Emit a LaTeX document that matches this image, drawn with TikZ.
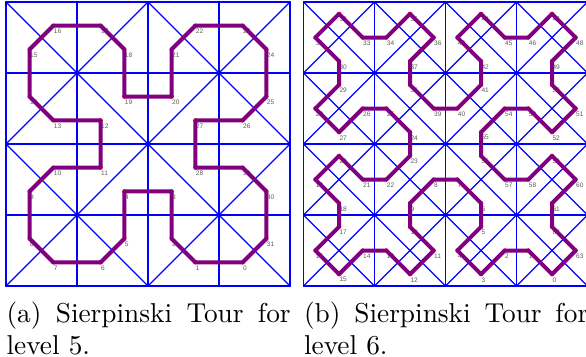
\documentclass[tikz,border=0pt]{standalone}
\usepackage{fontspec}
\newfontfamily\labelfont{Liberation Sans}
\usepackage{xcolor}
\usepackage{tikz}
\usetikzlibrary{positioning}
\definecolor{gridblue}{HTML}{0000FF}
\definecolor{tourpurple}{HTML}{800080}
\definecolor{labelgray}{HTML}{5A5A5A}

\begin{document}
\begin{tikzpicture}[x=0.366pt, y=-0.366pt]
  \tikzstyle{gridline}=[draw=gridblue, line width=0.62pt]
  \tikzstyle{diag}=[draw=gridblue, line width=0.5pt]
  \tikzstyle{frame}=[draw=gridblue, line width=0.62pt]
  \tikzstyle{dot}=[circle, fill=red, inner sep=0pt, minimum size=1.6pt, label distance=0.85pt]
  \tikzstyle{lbl}=[anchor=north west, inner sep=0pt, text=labelgray, font=\labelfont\fontsize{2.4}{2.8}\selectfont]
  \tikzstyle{tour}=[draw=tourpurple, line width=1.46pt, line join=bevel]
  \tikzstyle{caption}=[anchor=north west, inner sep=0pt, text width=104pt, align=justify, font=\sloppy]

  \useasboundingbox (0,0) rectangle (586,356);

  % level 5
  \begin{scope}[shift={(6,2)}, x=8.662pt, y=-8.662pt]
    \draw[frame] (0,0) rectangle (12,12);
    \foreach \k in {3,6,9} {
      \draw[gridline] (\k,0) -- (\k,12);
      \draw[gridline] (0,\k) -- (12,\k);
    }
    \draw[diag] (0,0) -- (12,12) (12,0) -- (0,12);
    \draw[diag] (6,0) -- (12,6) -- (6,12) -- (0,6) -- cycle;
    \foreach \x/\y [count=\n from 0] in {10/11, 8/11, 7/10, 7/8, 5/8, 5/10, 4/11, 2/11,
        1/10, 1/8, 2/7, 4/7, 4/5, 2/5, 1/4, 1/2, 2/1, 4/1, 5/2, 5/4, 7/4, 7/2, 8/1, 10/1,
        11/2, 11/4, 10/5, 8/5, 8/7, 10/7, 11/8, 11/10}
      \node[dot, label={[lbl]below:\n}] (a\n) at (\x,\y) {};
    \draw[tour] (a0.center) \foreach \n in {1,...,31} { -- (a\n.center) } -- cycle;
  \end{scope}

  % level 6
  \begin{scope}[shift={(303.5,2)}, x=4.331pt, y=-4.331pt]
    \draw[frame] (0,0) rectangle (24,24);
    \foreach \k in {6,12,18} {
      \draw[gridline] (\k,0) -- (\k,24);
      \draw[gridline] (0,\k) -- (24,\k);
    }
    \foreach \i in {0,6,12,18}
      \foreach \j in {0,6,12,18}
        \draw[diag] (\i,\j) -- ++(6,6) (\i+6,\j) -- ++(-6,6);
    \foreach \x/\y [count=\n from 0] in {21/23, 19/21, 17/21, 15/23, 13/21, 15/19, 15/17, 13/15,
        11/15, 9/17, 9/19, 11/21, 9/23, 7/21, 5/21, 3/23,
        1/21, 3/19, 3/17, 1/15, 3/13, 5/15, 7/15, 9/13,
        9/11, 7/9, 5/9, 3/11, 1/9, 3/7, 3/5, 1/3,
        3/1, 5/3, 7/3, 9/1, 11/3, 9/5, 9/7, 11/9,
        13/9, 15/7, 15/5, 13/3, 15/1, 17/3, 19/3, 21/1,
        23/3, 21/5, 21/7, 23/9, 21/11, 19/9, 17/9, 15/11,
        15/13, 17/15, 19/15, 21/13, 23/15, 21/17, 21/19, 23/21}
      \node[dot, label={[lbl]below:\n}] (b\n) at (\x,\y) {};
    \draw[tour] (b0.center) \foreach \n in {1,...,63} { -- (b\n.center) } -- cycle;
  \end{scope}

  \node[caption] (capa) at (6,301) {(a) Sierpinski Tour for level 5.};
  \node[caption] (capb) at (303.5,301) {(b) Sierpinski Tour for level 6.};
\end{tikzpicture}
\end{document}
